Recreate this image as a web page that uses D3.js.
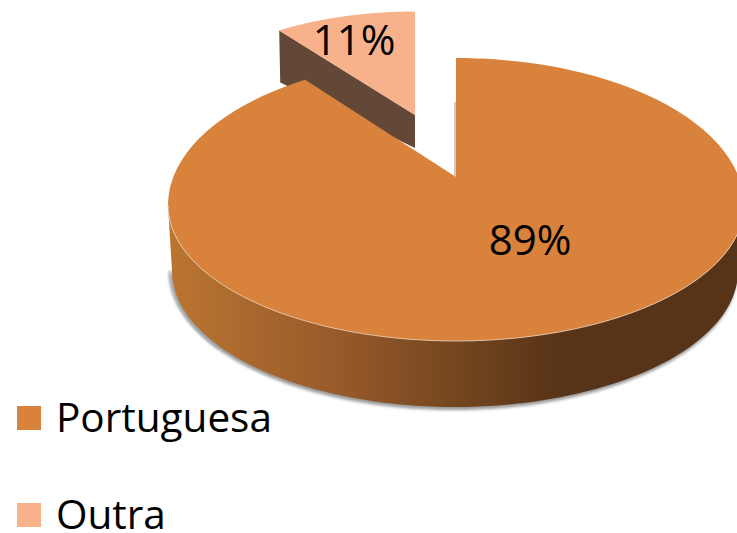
<!DOCTYPE html>
<html><head><meta charset="utf-8">
<script src="https://cdn.jsdelivr.net/npm/d3@7/dist/d3.min.js"></script>
<style>html,body{margin:0;padding:0;background:#fff}svg{display:block}text{font-family:"Open Sans",sans-serif;fill:#000}</style>
</head><body><svg id="c" width="737" height="533"></svg>
<script>
const categories=["Portuguesa","Outra"];
const values=[89.4,10.6];
const labels=["89%","11%"];
const colors=["#d8823c","#f7b28c"];
const svg=d3.select("#c");
const defs=svg.append("defs");
const g=defs.append("linearGradient").attr("id","side").attr("gradientUnits","userSpaceOnUse").attr("x1",170).attr("x2",745).attr("y1",0).attr("y2",0);
[[0,"#bb7531"],[.3,"#96592a"],[.5,"#74461f"],[.68,"#573318"],[1,"#573318"]].forEach(s=>g.append("stop").attr("offset",s[0]).attr("stop-color",s[1]));
defs.append("filter").attr("id","blur").attr("x","-5%").attr("y","-5%").attr("width","110%").attr("height","110%").append("feGaussianBlur").attr("stdDeviation",1.6);

// disc outline seen in perspective: the far half is taller than the near half
const cx=456,cy=205,rx=288,ryFar=147,ryNear=136,skew=0.118;
const o=[456,177];
const pr=(a,dx=0,dy=0)=>{
  const t=a-skew*Math.sin(2*a), c=Math.cos(t);
  return [cx+rx*Math.sin(t)+dx, cy-(c>0?ryFar:ryNear)*c+dy];
};
const pie=d3.pie().sort(null)(values);
const angleScale=d3.scaleLinear().domain([0,1]);
const arcPts=(a0,a1,dx=0,dy=0)=>{angleScale.range([a0,a1]);return d3.range(0,1.0001,1/120).map(t=>pr(angleScale(t),dx,dy));};
const line=d3.line();
const depth=66;
const big=pie[0],small=pie[1];
const a0=Math.PI/2,a1=3*Math.PI/2;
// the lower rim edge is a little narrower than the top face
const narrow=p=>[455+(p[0]-cx)*283/288,p[1]];

// shadow of the rim
svg.append("path").attr("d",line(arcPts(a0,a1,-1,depth+3).map(narrow))+"Z").attr("fill","#9a9a9a").attr("filter","url(#blur)");
svg.append("path").attr("d",line(arcPts(a1-.5,a1,-2,depth).map(narrow))).attr("fill","none").attr("stroke","#9fa8ad").attr("stroke-width",3).attr("filter","url(#blur)");

// exploded slice, drawn smaller than the disc around its own apex
const apex=[415,115],sx=.90,sy=.87;
const toSmall=p=>[apex[0]+sx*(p[0]-o[0]),apex[1]+sy*(p[1]-o[1])];
const sArc=arcPts(small.startAngle,small.endAngle).map(toSmall);
const lp=sArc[0];
svg.append("path").attr("d",line([[apex[0]+4,60],[apex[0]+4,apex[1]+36]])).attr("stroke","#b8bfc4").attr("stroke-width",2.5).attr("fill","none").attr("filter","url(#blur)");
svg.append("path").attr("d",line([lp,apex,[apex[0],apex[1]+33],[lp[0]+1,lp[1]+52]])+"Z").attr("fill","#634838");
svg.append("path").attr("d",line([apex,...sArc])+"Z").attr("fill",colors[1]);

// rim and top of the large slice
const sidePts=[...arcPts(a0,a1),...arcPts(a1,a0,0,depth).map(narrow)];
svg.append("path").attr("d",line(sidePts)+"Z").attr("fill","url(#side)");
svg.append("path").attr("d",line([o,...arcPts(big.startAngle,big.endAngle)])+"Z").attr("fill",colors[0]);
svg.append("path").attr("d",line(arcPts(a0,a1))).attr("fill","none").attr("stroke","#ecd3bc").attr("stroke-width",.8);
svg.append("path").attr("d",line([[o[0]-1,o[1]],[o[0]-1,o[1]-75]])).attr("stroke","#9a9a9a").attr("stroke-width",1);

// labels
svg.append("text").attr("x",530).attr("y",255).attr("text-anchor","middle").attr("font-size",42).text(labels[0]);
svg.append("text").attr("x",354).attr("y",55).attr("text-anchor","middle").attr("font-size",42).text(labels[1]);
// legend
const ly=d3.scalePoint().domain(categories).range([406,503]);
categories.forEach((c,i)=>{
 svg.append("rect").attr("x",17).attr("y",ly(c)).attr("width",24).attr("height",24).attr("fill",colors[i]);
 svg.append("text").attr("x",56).attr("y",ly(c)+26).attr("font-size",40.5).text(c);
});
</script></body></html>
